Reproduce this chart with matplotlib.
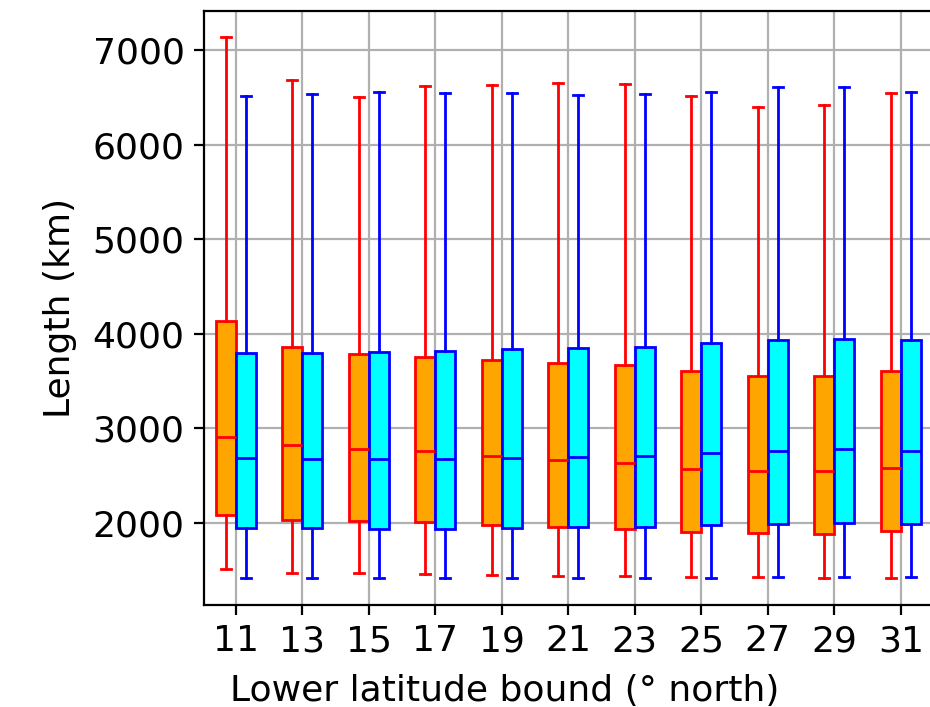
import matplotlib
matplotlib.use("Agg")
import matplotlib.pyplot as plt

# lower latitude bound (deg north)
lats = [11, 13, 15, 17, 19, 21, 23, 25, 27, 29, 31]

# first series (orange boxes, red lines)
a_low = [1510, 1467, 1467, 1464, 1450, 1443, 1440, 1432, 1425, 1419, 1422]
a_q1 = [2088, 2032, 2025, 2007, 1982, 1961, 1940, 1905, 1890, 1887, 1911]
a_med = [2912, 2828, 2782, 2757, 2711, 2662, 2630, 2574, 2550, 2550, 2578]
a_q3 = [4137, 3859, 3786, 3757, 3722, 3694, 3666, 3602, 3549, 3556, 3609]
a_high = [7141, 6683, 6500, 6619, 6627, 6655, 6641, 6514, 6401, 6419, 6542]

# second series (cyan boxes, blue lines)
b_low = [1422, 1422, 1419, 1415, 1415, 1419, 1419, 1422, 1425, 1432, 1429]
b_q1 = [1947, 1947, 1940, 1936, 1947, 1954, 1961, 1975, 1986, 2000, 1993]
b_med = [2683, 2677, 2673, 2673, 2691, 2697, 2711, 2740, 2764, 2777, 2764]
b_q3 = [3792, 3796, 3810, 3820, 3835, 3845, 3863, 3898, 3933, 3944, 3930]
b_high = [6514, 6535, 6556, 6542, 6542, 6524, 6535, 6556, 6609, 6612, 6553]


def make_stats(low, q1, med, q3, high):
    return [dict(whislo=lo, q1=a, med=m, q3=b, whishi=hi, fliers=[])
            for lo, a, m, b, hi in zip(low, q1, med, q3, high)]


def style(edge, face):
    return dict(
        boxprops=dict(facecolor=face, edgecolor=edge, linewidth=1.0),
        medianprops=dict(color=edge, linewidth=1.0),
        whiskerprops=dict(color=edge, linewidth=1.0),
        capprops=dict(color=edge, linewidth=1.0),
    )


plt.rcParams['font.size'] = 13

fig = plt.figure(figsize=(4.65, 3.535), dpi=200)
# axes run a little past the right edge, like the cropped original
ax = fig.add_axes([204 / 930, 1 - 605 / 707, 730 / 930, 594 / 707])

ax.bxp(make_stats(a_low, a_q1, a_med, a_q3, a_high),
       positions=[x - 0.3 for x in lats], widths=0.6, patch_artist=True,
       showfliers=False, manage_ticks=False, **style('red', 'orange'))
ax.bxp(make_stats(b_low, b_q1, b_med, b_q3, b_high),
       positions=[x + 0.3 for x in lats], widths=0.6, patch_artist=True,
       showfliers=False, manage_ticks=False, **style('blue', 'cyan'))

ax.set_xticks(lats)
ax.set_xticklabels([str(x) for x in lats])
ax.set_xlim(10.04, 32.0)
ax.set_ylim(1133, 7412)
ax.set_yticks([2000, 3000, 4000, 5000, 6000, 7000])
ax.grid(True)
ax.set_axisbelow(True)
ax.set_xlabel('Lower latitude bound (° north)', x=0.412, labelpad=5.5)
ax.set_ylabel('Length (km)', labelpad=5.5)

fig.savefig('out.png', dpi=200)
